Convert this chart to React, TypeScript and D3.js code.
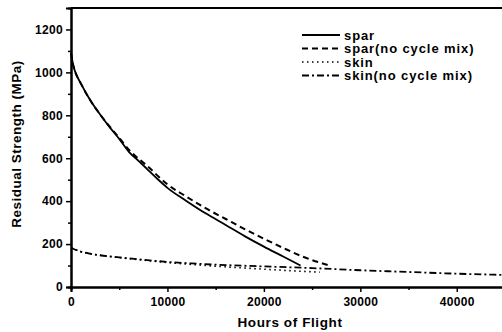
import React, { useEffect, useRef } from 'react';
import * as d3 from 'd3';

// hours of flight / residual strength (MPa)
const sparHours = [0, 250, 500, 1000, 2000, 3000, 4000, 5000, 6000, 7000, 8000, 9000, 10000, 12000, 14000, 16000, 18000, 20000, 22000, 23800];
const sparValues = [1090, 1030, 995, 950, 870, 805, 745, 690, 630, 588, 545, 502, 462, 400, 342, 290, 237, 188, 142, 100];

const sparNcHours = [0, 250, 500, 1000, 2000, 3000, 4000, 5000, 6000, 8000, 10000, 12000, 14000, 16000, 18000, 20000, 22000, 24000, 26800];
const sparNcValues = [1090, 1030, 995, 950, 870, 805, 748, 695, 640, 560, 478, 420, 366, 318, 270, 225, 182, 142, 100];

const skinHours = [0, 1000, 2000, 3000, 5000, 7500, 10000, 12500, 15000, 20000, 24000, 25800];
const skinValues = [183, 165, 155, 148, 137, 125, 114, 105, 97, 83, 73, 69];

const skinNcHours = [0, 1000, 2000, 3000, 5000, 7500, 10000, 12500, 15000, 20000, 25000, 30000, 35000, 40000, 45000];
const skinNcValues = [183, 165, 155, 148, 138, 127, 117, 110, 104, 96, 88, 78, 70, 62, 56];

const xTicks = [0, 10000, 20000, 30000, 40000];
const yTicks = [0, 200, 400, 600, 800, 1000, 1200];

const seriesNames = ['spar', 'spar(no cycle mix)', 'skin', 'skin(no cycle mix)'];
const dashes = ['none', '6,4', '1.5,3.5', '7,3,2,3'];
const widths = [1.8, 2, 1.6, 1.8];

const W = 502;
const H = 332;
const FONT = '"Liberation Sans", Arial, sans-serif';

export default function App() {
  const ref = useRef<SVGSVGElement>(null);

  useEffect(() => {
    const svg = d3.select(ref.current);
    svg.selectAll('*').remove();

    const x = d3.scaleLinear().domain([0, 45000]).range([71, 505]);
    const y = d3.scaleLinear().domain([0, 1300]).range([287, 8]);

    const data = [
      sparHours.map((h, i) => [h, sparValues[i]]),
      sparNcHours.map((h, i) => [h, sparNcValues[i]]),
      skinHours.map((h, i) => [h, skinValues[i]]),
      skinNcHours.map((h, i) => [h, skinNcValues[i]]),
    ];

    const line = d3.line<number[]>()
      .x(d => x(d[0]))
      .y(d => y(d[1]))
      .curve(d3.curveMonotoneX);

    // minor ticks
    const minorX = d3.axisBottom(x).tickValues(d3.range(5000, 45001, 10000)).tickSize(3).tickFormat(() => '');
    const minorY = d3.axisLeft(y).tickValues(d3.range(100, 1300, 200)).tickSize(3).tickFormat(() => '');
    svg.append('g').attr('transform', 'translate(0,287)').call(minorX);
    svg.append('g').attr('transform', 'translate(71,0)').call(minorY);

    const xAxis = d3.axisBottom(x).tickValues(xTicks).tickSize(5).tickPadding(5).tickFormat(d3.format('d'));
    const yAxis = d3.axisLeft(y).tickValues(yTicks).tickSize(5).tickPadding(3).tickFormat(d3.format('d'));
    svg.append('g').attr('transform', 'translate(0,287)').call(xAxis);
    svg.append('g').attr('transform', 'translate(71,0)').call(yAxis);

    svg.selectAll('.domain').attr('stroke', '#000').attr('stroke-width', 2);
    svg.selectAll('.tick line').attr('stroke', '#000').attr('stroke-width', 1.5);
    svg.selectAll('.tick text')
      .attr('fill', '#000')
      .attr('font-family', FONT)
      .attr('font-size', 12)
      .attr('font-weight', 'bold')
      .attr('letter-spacing', 0.3);

    // top frame
    svg.append('line')
      .attr('x1', 71).attr('x2', W)
      .attr('y1', 8).attr('y2', 8)
      .attr('stroke', '#000').attr('stroke-width', 2);

    data.forEach((d, i) => {
      svg.append('path')
        .datum(d)
        .attr('d', line)
        .attr('fill', 'none')
        .attr('stroke', '#000')
        .attr('stroke-width', widths[i])
        .attr('stroke-dasharray', dashes[i]);
    });

    // legend
    const lg = svg.append('g').attr('transform', 'translate(302,35)');
    seriesNames.forEach((name, i) => {
      const row = lg.append('g').attr('transform', `translate(0,${i * 13.5})`);
      row.append('line')
        .attr('x1', 0).attr('x2', 38)
        .attr('stroke', '#000')
        .attr('stroke-width', widths[i])
        .attr('stroke-dasharray', dashes[i]);
      row.append('text')
        .attr('x', 42).attr('y', 4.5)
        .attr('font-family', FONT)
        .attr('font-size', 13)
        .attr('font-weight', 'bold')
        .attr('letter-spacing', 0.9)
        .text(name);
    });

    svg.append('text')
      .attr('x', 290).attr('y', 327)
      .attr('text-anchor', 'middle')
      .attr('font-family', FONT)
      .attr('font-size', 13.5)
      .attr('font-weight', 'bold')
      .attr('letter-spacing', 0.6)
      .text('Hours of Flight');

    svg.append('text')
      .attr('transform', 'translate(21,144) rotate(-90)')
      .attr('text-anchor', 'middle')
      .attr('font-family', FONT)
      .attr('font-size', 13.5)
      .attr('font-weight', 'bold')
      .attr('letter-spacing', 0.5)
      .text('Residual Strength (MPa)');
  }, []);

  return (
    <svg
      ref={ref}
      width={W}
      height={H}
      style={{ position: 'absolute', left: 0, top: 0, background: '#fff' }}
    />
  );
}
